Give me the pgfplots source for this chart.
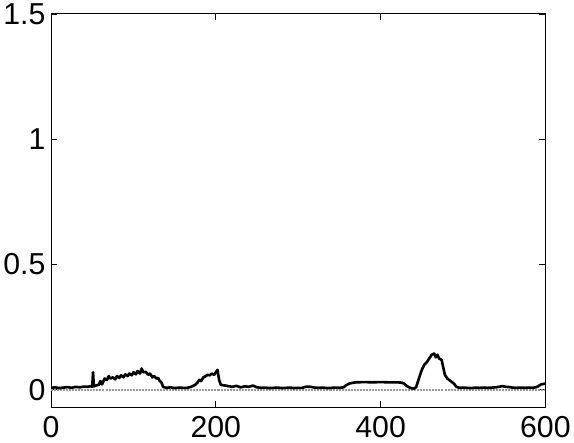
\documentclass[border={0pt 2pt 0pt 0pt}]{standalone}
\usepackage{fontspec}
\setmainfont{Liberation Sans}
\usepackage{pgfplots}
\pgfplotsset{compat=1.18}

\begin{document}
\begin{tikzpicture}
\begin{axis}[
    scale only axis,
    width=490pt, height=390pt,
    xmin=0, xmax=600,
    ymin=-0.07, ymax=1.5,
    xtick={0,200,400,600},
    ytick={0,0.5,1,1.5},
    yticklabels={0,0.5,1,1.5},
    tick align=inside,
    major tick length=6pt,
    tick style={black, line width=0.8pt},
    axis line style={line width=1pt},
    ticklabel style={font=\fontsize{30}{34}\selectfont},
    /pgf/number format/assume math mode=true,
    xticklabel style={yshift=-5pt},
    yticklabel style={xshift=-2pt},
]

% baseline reference
\addplot[gray!80, densely dotted, line width=2pt] coordinates {(0,0) (600,0)};

% measured signal
\addplot[black, line width=2.6pt, line join=round] coordinates {
(0,0.008) (5,0.010) (10,0.007) (15,0.009) (20,0.011) (25,0.008) (30,0.012)
(35,0.010) (40,0.013) (45,0.012) (48,0.015) (50,0.012) (51,0.07) (52,0.014)
(55,0.018) (58,0.020) (60,0.035) (62,0.022) (65,0.045) (68,0.040) (70,0.055)
(72,0.045) (75,0.050) (78,0.042) (80,0.055) (83,0.048) (85,0.058) (88,0.050)
(90,0.062) (93,0.055) (95,0.065) (98,0.058) (100,0.070) (103,0.062) (105,0.075)
(108,0.065) (110,0.085) (112,0.070) (115,0.072) (118,0.060) (120,0.065)
(123,0.050) (125,0.055) (128,0.045) (130,0.048) (132,0.035) (134,0.030)
(136,0.012) (140,0.008) (145,0.010) (150,0.007) (155,0.009) (160,0.008)
(165,0.008) (170,0.012) (175,0.020) (178,0.030) (180,0.040) (182,0.035)
(185,0.050) (188,0.055) (190,0.060) (193,0.058) (195,0.065) (198,0.060)
(200,0.070) (202,0.080) (204,0.040) (206,0.020) (210,0.018) (215,0.015)
(220,0.012) (225,0.016) (230,0.010) (235,0.014) (240,0.012) (245,0.017)
(250,0.010) (255,0.008) (260,0.009) (265,0.007) (270,0.008) (275,0.009)
(280,0.007) (285,0.008) (290,0.009) (295,0.007) (300,0.008) (305,0.008)
(310,0.013) (315,0.012) (320,0.009) (325,0.008) (330,0.009) (335,0.007)
(340,0.008) (345,0.009) (350,0.008) (355,0.010) (358,0.018) (362,0.025)
(366,0.028) (370,0.030) (380,0.031) (390,0.030) (400,0.031) (410,0.030)
(420,0.030) (425,0.029) (428,0.026) (432,0.015) (436,0.008) (440,0.005)
(443,0.010) (446,0.040) (450,0.080) (453,0.100) (456,0.110) (459,0.125)
(462,0.140) (465,0.145) (467,0.130) (469,0.140) (471,0.125) (474,0.120)
(476,0.090) (478,0.060) (481,0.045) (485,0.035) (489,0.025) (492,0.012)
(496,0.008) (500,0.009) (505,0.008) (510,0.007) (515,0.009) (520,0.008)
(525,0.009) (530,0.008) (535,0.009) (540,0.010) (545,0.013) (548,0.015)
(552,0.012) (556,0.011) (560,0.009) (565,0.008) (570,0.009) (575,0.008)
(580,0.009) (585,0.008) (590,0.012) (595,0.022) (600,0.025)
};

\end{axis}
\end{tikzpicture}
\end{document}
